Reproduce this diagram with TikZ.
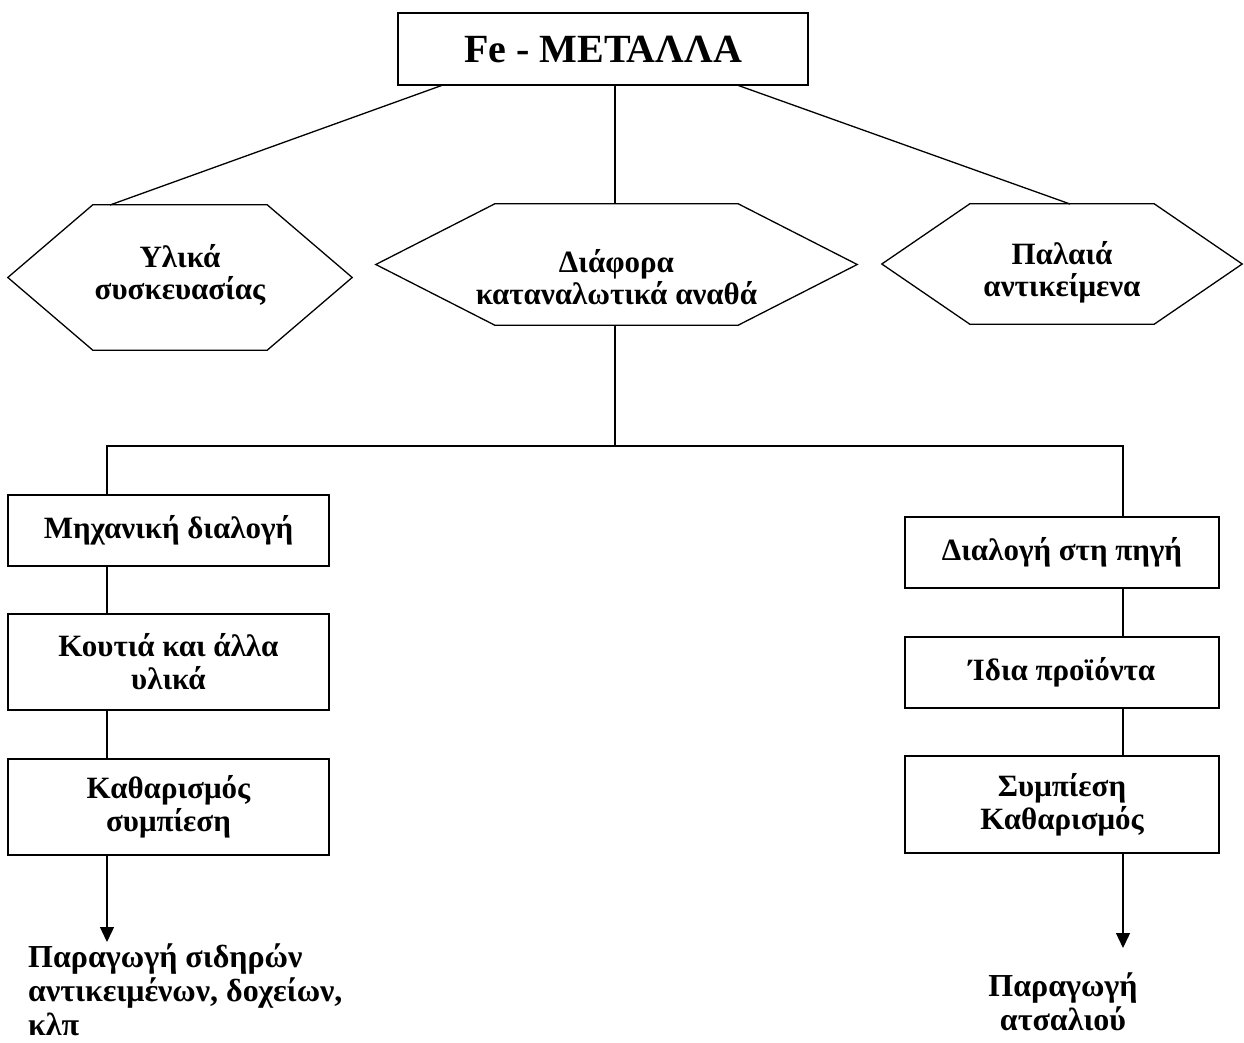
\documentclass[tikz,border=0pt]{standalone}
\usepackage{fontspec}
\setmainfont{Liberation Serif}
\usetikzlibrary{arrows.meta}

% hexagon outline around a rectangular node: #1 node name, #2 corner inset
\newcommand\hexframe[2]{%
  \draw[frame] ([xshift=#2]#1.north west) -- ([xshift=-#2]#1.north east)
    -- (#1.east) -- ([xshift=-#2]#1.south east)
    -- ([xshift=#2]#1.south west) -- (#1.west) -- cycle;}

\begin{document}
\begin{tikzpicture}[x=1pt,y=-1pt,
  frame/.style={line width=1.3pt,line join=miter},
  boxnode/.style={draw,line width=1.3pt,inner sep=0pt,align=center,
    font=\fontsize{31}{33}\selectfont\bfseries},
  hexshape/.style={inner sep=0pt},
  hexlabel/.style={inner sep=0pt,align=center,
    font=\fontsize{31}{32}\selectfont\bfseries},
  link/.style={line width=1.3pt},
  flow/.style={line width=1.3pt,-{Triangle[length=15pt,width=14pt]}},
  result/.style={inner sep=0pt,font=\fontsize{32}{34}\selectfont\bfseries}]

\useasboundingbox[fill=white] (0,0) rectangle (1244,1043);

% root
\node[boxnode,minimum width=410pt,minimum height=72pt,
      font=\fontsize{40}{44}\selectfont\bfseries] (root) at (603,49) {Fe - ΜΕΤΑΛΛΑ};

% three sources
\node[hexshape,minimum width=344pt,minimum height=145pt] (pack) at (180,277.5) {};
\hexframe{pack}{85pt}
\node[hexlabel] (packT) at (180,275) {Υλικά\\συσκευασίας};
\node[hexshape,minimum width=481pt,minimum height=121pt] (cons) at (616.5,264.5) {};
\hexframe{cons}{119pt}
\node[hexlabel] (consT) at (616.5,277) {Διάφορα\\καταναλωτικά αναθά};
\node[hexshape,minimum width=360pt,minimum height=120pt] (old) at (1062,264) {};
\hexframe{old}{88pt}
\node[hexlabel] (oldT) at (1062,272) {Παλαιά\\αντικείμενα};

% left chain
\node[boxnode,minimum width=321pt,minimum height=71pt] (mech) at (168.5,530.5) {Μηχανική διαλογή};
\node[boxnode,minimum width=321pt,minimum height=96pt] (cans) at (168.5,662) {Κουτιά και άλλα\\υλικά};
\node[boxnode,minimum width=321pt,minimum height=96pt] (clean) at (168.5,807) {Καθαρισμός\\συμπίεση};

% right chain
\node[boxnode,minimum width=314pt,minimum height=71pt] (src) at (1062,552.5) {Διαλογή στη πηγή};
\node[boxnode,minimum width=314pt,minimum height=71pt] (own) at (1062,672.5) {Ίδια προϊόντα};
\node[boxnode,minimum width=314pt,minimum height=97pt] (press) at (1062,804.5) {Συμπίεση\\Καθαρισμός};

% end products
\node[result,anchor=north west,align=left] (iron) at (28,944)
  {Παραγωγή σιδηρών\\αντικειμένων, δοχείων,\\κλπ};
\node[result,anchor=north,align=center] (steel) at (1063,973)
  {Παραγωγή\\ατσαλιού};

% connector reference points
\coordinate (rl) at (443,85);
\coordinate (rr) at (737,85);
\coordinate (pt) at (110,205);
\coordinate (ot) at (1070,204);
\coordinate (split) at (615,446);
\coordinate (lx) at (107,446);
\coordinate (rx) at (1123,446);
\coordinate (lend) at (107,942);
\coordinate (rend) at (1123,948);

% tree from the root
\draw[link] (rl) -- (pt);
\draw[link] (root.south -| split) -- (cons.north -| split);
\draw[link] (rr) -- (ot);

% branching below the middle source
\draw[link] (cons.south -| split) -- (split);
\draw[link] (mech.north -| lx) -- (lx) -- (rx) -- (src.north -| rx);

% vertical chains
\draw[link] (mech.south -| lx) -- (cans.north -| lx);
\draw[link] (cans.south -| lx) -- (clean.north -| lx);
\draw[flow] (clean.south -| lx) -- (lend);
\draw[link] (src.south -| rx) -- (own.north -| rx);
\draw[link] (own.south -| rx) -- (press.north -| rx);
\draw[flow] (press.south -| rx) -- (rend);
\end{tikzpicture}
\end{document}
